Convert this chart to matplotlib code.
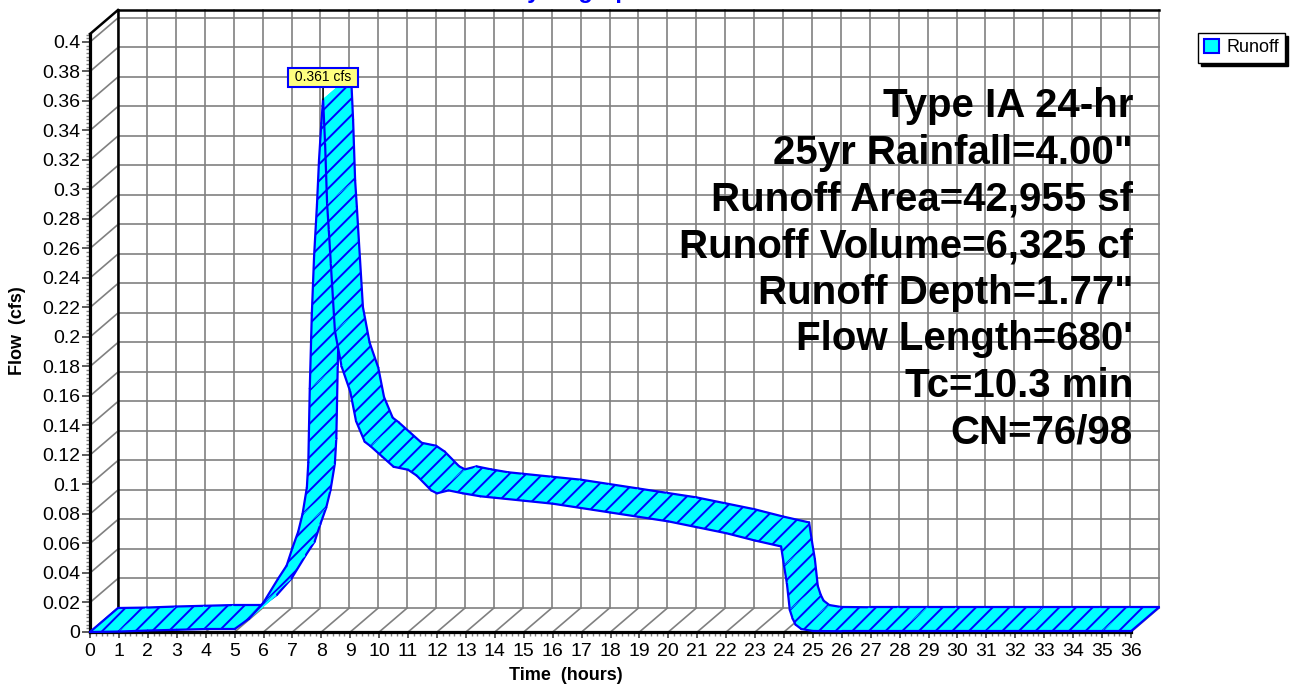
import numpy as np
import matplotlib
matplotlib.use("Agg")
from matplotlib import pyplot as plt
from matplotlib.patches import Polygon, Patch
from matplotlib.ticker import MultipleLocator, FuncFormatter

plt.rcParams["font.family"] = ["Liberation Sans", "DejaVu Sans"]
plt.rcParams["hatch.color"] = "#0000ff"
plt.rcParams["hatch.linewidth"] = 1.4

time_hr = [0, 1, 2, 3, 4, 5, 5.5, 6.0, 6.5, 6.8, 7.0, 7.2, 7.35, 7.5, 7.55,
           7.6, 7.67, 7.75, 7.85, 7.92, 8.0, 8.06, 8.13, 8.2, 8.26, 8.33,
           8.47, 8.7, 9.0, 9.2, 9.5, 9.7, 10.1, 10.5, 11.0, 11.3, 11.8, 12.0,
           12.4, 12.9, 13.5, 14.0, 15.0, 16.0, 17.0, 18.0, 19.0, 20.0, 21.0,
           22.0, 23.0, 23.9, 24.0, 24.1, 24.2, 24.3, 24.4, 24.6, 25.0, 26, 27,
           28, 29, 30, 31, 32, 33, 34, 35, 36]
flow_cfs = [0.0, 0.0003, 0.001, 0.0015, 0.002, 0.002, 0.009, 0.02, 0.036,
            0.045, 0.057, 0.068, 0.08, 0.098, 0.115, 0.165, 0.215, 0.255,
            0.29, 0.32, 0.345, 0.361, 0.331, 0.29, 0.272, 0.249, 0.204, 0.18,
            0.163, 0.143, 0.129, 0.126, 0.119, 0.112, 0.11, 0.106, 0.096,
            0.094, 0.096, 0.094, 0.092, 0.091, 0.089, 0.087, 0.084, 0.081,
            0.078, 0.075, 0.071, 0.067, 0.062, 0.058, 0.045, 0.033, 0.015,
            0.009, 0.005, 0.002, 0.0007, 0.0005, 0.0005, 0.0005, 0.0005,
            0.0005, 0.0005, 0.0005, 0.0005, 0.0005, 0.0005, 0.0005]

series_name = "Runoff"
chart_title = "Hydrograph"
peak_label = "0.361 cfs"
notes = ["Type IA 24-hr", '25yr Rainfall=4.00"', "Runoff Area=42,955 sf",
         "Runoff Volume=6,325 cf", 'Runoff Depth=1.77"', "Flow Length=680'",
         "Tc=10.3 min", "CN=76/98"]
x_ticks = list(range(0, 37))
y_ticks = [round(0.02 * k, 2) for k in range(21)]

W, H = 1294, 685
fig = plt.figure(figsize=(W / 100, H / 100), dpi=100)
ax = fig.add_axes([90 / W, 53 / H, 1041 / W, 598 / H])
ax.set_xlim(0, 36)
ax.set_ylim(0, 0.4054)
ax.patch.set_visible(False)
top = ax.get_ylim()[1]

# depth of the fake 3D box (pixels) turned into data units
depth_px = (28, 24)
dx = depth_px[0] * 36 / ax.bbox.width
dy = depth_px[1] * top / ax.bbox.height

# back wall, floor and left wall grids
grid = dict(color="#808080", lw=1.2, clip_on=False, zorder=1)
for t in x_ticks:
    ax.plot([t + dx, t + dx], [dy, top + dy], **grid)
    ax.plot([t, t + dx], [0, dy], **grid)
for q in y_ticks:
    ax.plot([dx, 36 + dx], [q + dy, q + dy], **grid)
    ax.plot([0, dx], [q, q + dy], **grid)
edge = dict(color="black", lw=1.8, clip_on=False, zorder=2)
ax.plot([dx, dx], [dy, top + dy], **edge)
ax.plot([dx, 36 + dx], [top + dy, top + dy], **edge)
ax.plot([0, dx], [top, top + dy], **edge)

# ribbon, one quad per segment, drawn in time order
blue = "#0000ff"
line = dict(color=blue, lw=1.6, clip_on=False, solid_capstyle="round")
for i in range(len(time_hr) - 1):
    t0, t1 = time_hr[i], time_hr[i + 1]
    q0, q1 = flow_cfs[i], flow_cfs[i + 1]
    quad = [(t0, q0), (t1, q1), (t1 + dx, q1 + dy), (t0 + dx, q0 + dy)]
    z = 5 + i * 0.01
    ax.add_patch(Polygon(quad, closed=True, facecolor="#00ffff", edgecolor="#00ffff",
                         lw=0.6, clip_on=False, zorder=z))
    ax.add_patch(Polygon(quad, closed=True, facecolor="none", edgecolor=blue,
                         lw=0, hatch="//", clip_on=False, zorder=z))
    ax.plot([t0, t1], [q0, q1], zorder=z, **line)
    ax.plot([t0 + dx, t1 + dx], [q0 + dy, q1 + dy], zorder=z, **line)
ax.plot([time_hr[0], time_hr[0] + dx], [flow_cfs[0], flow_cfs[0] + dy], zorder=9, **line)
ax.plot([time_hr[-1], time_hr[-1] + dx], [flow_cfs[-1], flow_cfs[-1] + dy], zorder=9, **line)

# peak label
ip = int(np.argmax(flow_cfs))
ax.annotate(" " + peak_label + " ", xy=(time_hr[ip], flow_cfs[ip]), xytext=(0, 22),
            textcoords="offset pixels", ha="center", va="center", fontsize=10,
            bbox=dict(boxstyle="square,pad=0.2", fc="#ffff80", ec=blue, lw=1.5),
            arrowprops=dict(arrowstyle="-", color="black", lw=1.2,
                            shrinkA=0, shrinkB=0),
            zorder=20, annotation_clip=False)

# axes
for s in ["top", "right"]:
    ax.spines[s].set_visible(False)
for s in ["left", "bottom"]:
    ax.spines[s].set_linewidth(2.3)
    ax.spines[s].set_zorder(3)
ax.set_xticks(x_ticks)
ax.set_yticks(y_ticks)
ax.xaxis.set_minor_locator(MultipleLocator(0.2))
ax.yaxis.set_minor_locator(MultipleLocator(0.0025))
ax.yaxis.set_major_formatter(FuncFormatter(lambda v, p: f"{v:g}"))
ax.tick_params(axis="y", which="major", length=6, width=1.2, color="#404040",
               labelsize=14, pad=1)
ax.tick_params(axis="y", which="minor", length=3, width=1, color="#808080")
ax.tick_params(axis="x", which="major", length=4, width=1.2, color="#404040",
               labelsize=14, pad=4)
ax.tick_params(axis="x", which="minor", length=3, width=1, color="#808080")

fig.text(18 / W, 1 - 331 / H, "Flow  (cfs)", rotation=90, ha="center", va="center",
         fontsize=13, weight="bold")
fig.text(566 / W, 1 - 676 / H, "Time  (hours)", ha="center", va="center",
         fontsize=13, weight="bold")
fig.text(578 / W, 1 + 2 / H, chart_title, color=blue, fontsize=17, weight="bold",
         ha="center", va="baseline")

for k, s in enumerate(notes):
    fig.text(1133 / W, 1 - (117 + 46.7 * k) / H, s, ha="right", va="baseline",
             fontsize=29, weight="bold", zorder=30)

handle = Patch(facecolor="#00ffff", edgecolor=blue, lw=1.5)
leg = fig.legend([handle], [series_name], loc="upper right",
                 bbox_to_anchor=(1285 / W, 1 - 33 / H), fontsize=13,
                 frameon=True, fancybox=False,
                 shadow={"color": "black", "alpha": 1},
                 handlelength=0.8, handleheight=0.8, handletextpad=0.4,
                 borderpad=0.35, borderaxespad=0)
leg.get_frame().set_edgecolor("black")
leg.get_frame().set_linewidth(1)

fig.savefig("out.png", dpi=100)
